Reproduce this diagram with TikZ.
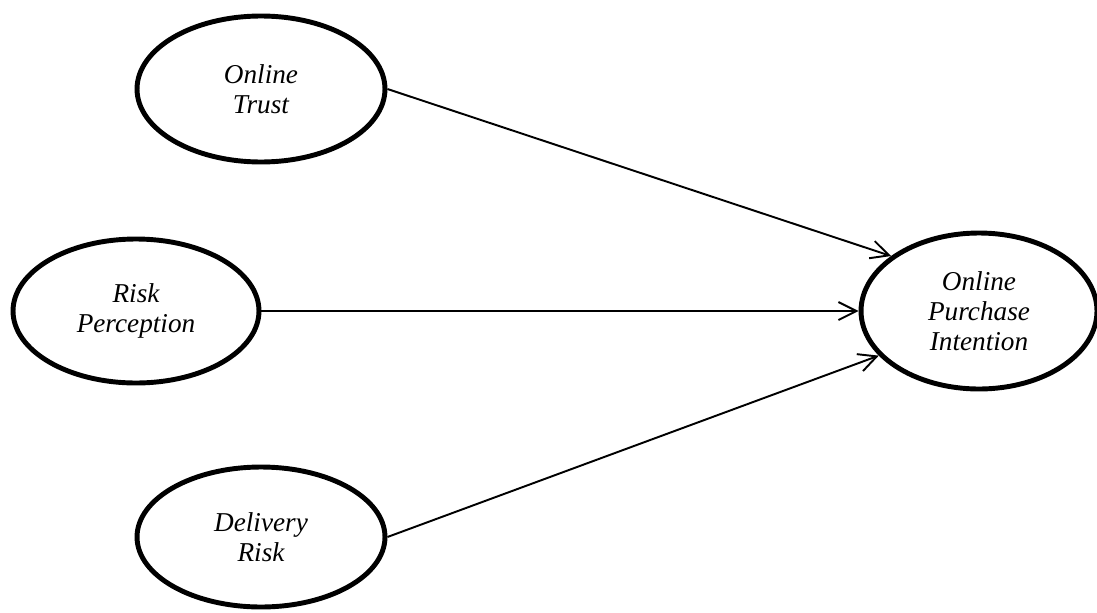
\documentclass[tikz,border=0pt]{standalone}
\usepackage{fontspec}
\setmainfont{Liberation Serif}
\usetikzlibrary{shapes.geometric,arrows.meta}
\tikzset{
	>={Straight Barb[length=3.6mm,width=3.6mm]},
	construct/.style={ellipse, draw, line width=2.8pt, inner sep=0pt, align=center,
		font=\fontsize{15.5}{17}\selectfont\itshape,
		minimum width=4.96cm, minimum height=2.92cm},
	link/.style={->, line width=1.1pt},
}

\begin{document}
\begin{tikzpicture}[x=0.02cm, y=-0.02cm]
        \useasboundingbox (0,0) rectangle (1097,612);
        % exogenous constructs
        \node[construct] (trust) at (261,89) {Online\\Trust};
        \node[construct, minimum width=4.92cm, minimum height=2.88cm] (risk) at (136,311) {Risk\\Perception};
        \node[construct, minimum height=2.8cm] (delivery) at (261,537) {Delivery\\Risk};
        % endogenous construct
        \node[construct, minimum width=4.72cm, minimum height=3.12cm] (intention) at (979,311) {Online\\Purchase\\Intention};

        \draw[link] (trust.east) -- (intention.148);
        \draw[link] (risk.east) -- (intention.west);
        \draw[link] (delivery.east) -- (intention.204);
    \end{tikzpicture}
\end{document}
